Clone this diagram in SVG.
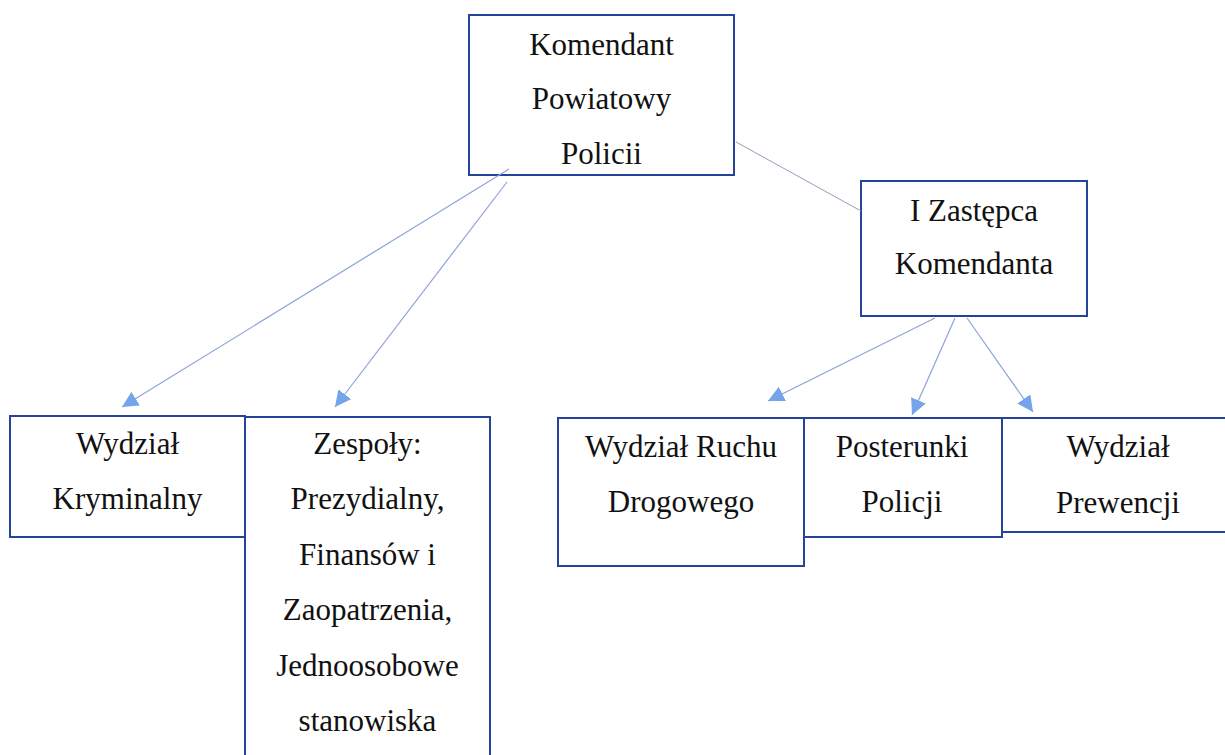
<svg xmlns="http://www.w3.org/2000/svg" width="1225" height="755" viewBox="0 0 1225 755">
<style>
  .box { fill: #ffffff; stroke: #24449a; stroke-width: 2; }
  .lbl { font-family: "Liberation Serif", "Times New Roman", serif; font-size: 31px; fill: #111111; text-anchor: middle; }
  .conn { fill: none; stroke: #8ea2dc; stroke-width: 1.2; }
  .plain { fill: none; stroke: #9a9ab8; stroke-width: 1; }
</style>
<defs>
  <marker id="arr" markerUnits="userSpaceOnUse" markerWidth="17" markerHeight="16" refX="16" refY="8" orient="auto">
    <path d="M0,0 L16,8 L0,16 z" fill="#74a4ea"/>
  </marker>
</defs>
<rect width="1225" height="755" fill="#ffffff"/>

<g id="n-komendant">
  <rect class="box" x="469" y="15" width="265" height="160"/>
  <text class="lbl" x="601.5" y="55">Komendant</text>
  <text class="lbl" x="601.5" y="109">Powiatowy</text>
  <text class="lbl" x="601.5" y="164">Policii</text>
</g>

<g id="n-zastepca">
  <rect class="box" x="861" y="181" width="226" height="135"/>
  <text class="lbl" x="974" y="221">I Zastępca</text>
  <text class="lbl" x="974" y="274">Komendanta</text>
</g>

<g id="n-kryminalny">
  <rect class="box" x="10" y="416" width="235" height="121"/>
  <text class="lbl" x="127.5" y="454">Wydział</text>
  <text class="lbl" x="127.5" y="509">Kryminalny</text>
</g>

<g id="n-zespoly">
  <rect class="box" x="245" y="417" width="245" height="345"/>
  <text class="lbl" x="367.5" y="454">Zespoły:</text>
  <text class="lbl" x="367.5" y="509">Prezydialny,</text>
  <text class="lbl" x="367.5" y="565">Finansów i</text>
  <text class="lbl" x="367.5" y="620">Zaopatrzenia,</text>
  <text class="lbl" x="367.5" y="676">Jednoosobowe</text>
  <text class="lbl" x="367.5" y="731">stanowiska</text>
</g>

<g id="n-ruch">
  <rect class="box" x="558" y="418" width="246" height="148"/>
  <text class="lbl" x="681" y="457">Wydział Ruchu</text>
  <text class="lbl" x="681" y="512">Drogowego</text>
</g>

<g id="n-posterunki">
  <rect class="box" x="804" y="418" width="198" height="119"/>
  <text class="lbl" x="902" y="457">Posterunki</text>
  <text class="lbl" x="902" y="512">Policji</text>
</g>

<g id="n-prewencja">
  <rect class="box" x="1002" y="418" width="232" height="114"/>
  <text class="lbl" x="1118" y="457">Wydział</text>
  <text class="lbl" x="1118" y="513">Prewencji</text>
</g>

<g id="connectors">
  <line class="conn" x1="509" y1="169" x2="122" y2="407" marker-end="url(#arr)"/>
  <line class="conn" x1="507" y1="182" x2="335" y2="407" marker-end="url(#arr)"/>
  <line class="plain" x1="736" y1="142" x2="861" y2="211"/>
  <line class="conn" x1="935" y1="318" x2="768" y2="401" marker-end="url(#arr)"/>
  <line class="conn" x1="955" y1="318" x2="912" y2="415" marker-end="url(#arr)"/>
  <line class="conn" x1="967" y1="318" x2="1033" y2="412" marker-end="url(#arr)"/>
</g>
</svg>
